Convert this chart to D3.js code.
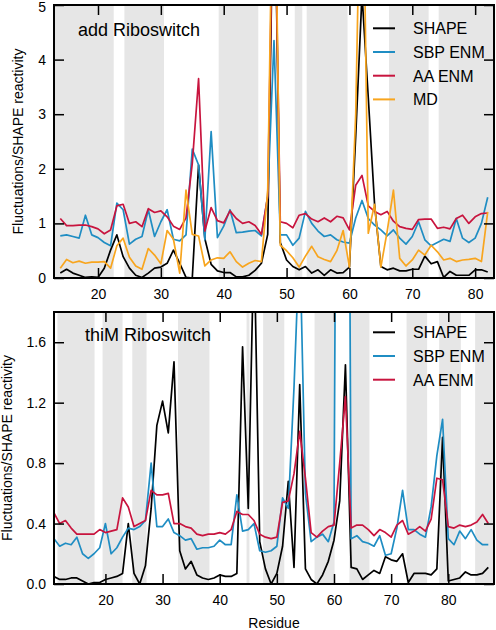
<!DOCTYPE html>
<html><head><meta charset="utf-8">
<script src="https://cdn.jsdelivr.net/npm/d3@7"></script>
<style>body{margin:0;background:#fff;} svg{display:block;font-family:"Liberation Sans",Arial,Helvetica,sans-serif;}</style>
</head><body><svg id="c" width="496" height="630"></svg>
<script>
// ---------- DATA ----------
const seriesNames = ["SHAPE", "SBP ENM", "AA ENM", "MD"];
const seriesColors = ["#000000", "#1f8dc3", "#c8143e", "#f8a51e"];

// add riboswitch (residues 14..82)
const addResidues = d3.range(14, 83);
const addShape = [0.09,0.16,0.09,0.05,0.01,0.02,0.01,0.18,0.51,0.79,0.39,0.18,0.05,0.01,0.09,0.18,0.20,0.27,0.51,0.27,0.01,0.0,2.07,0.72,0.25,0.13,0.10,0.10,0.02,0.02,0.05,0.14,0.27,0.8,8.0,0.65,0.33,0.21,0.15,0.21,0.09,0.15,0.05,0.15,0.09,0.10,0.20,2.6,5.2,3.3,1.35,0.21,0.15,0.18,0.13,0.13,0.16,0.16,0.40,0.26,0.30,0.01,0.12,0.05,0.05,0.05,0.15,0.15,0.11];
const addSbp = [0.77,0.79,0.76,0.73,1.15,0.79,0.74,0.65,0.59,1.37,1.25,0.62,0.71,0.76,1.25,0.76,1.03,1.25,0.71,0.68,0.79,2.36,2.07,0.70,2.68,0.74,0.95,1.25,0.83,0.84,0.86,0.87,0.77,1.5,4.35,0.79,0.79,0.60,0.73,1.22,1.0,0.86,0.76,0.79,0.70,0.66,0.64,1.1,1.42,1.09,0.97,0.88,0.77,0.88,0.73,0.62,0.76,1.03,0.70,0.59,0.65,0.71,0.67,1.09,0.73,0.65,0.73,1.0,1.48];
const addAa = [1.09,0.96,0.96,0.97,0.97,0.94,0.90,0.81,0.88,1.32,1.35,1.0,1.03,0.94,1.27,1.2,1.23,1.12,0.95,0.89,1.1,2.1,3.65,0.86,1.29,1.05,1.01,1.23,1.09,1.0,1.03,0.96,0.8,1.5,8.0,1.03,1.0,0.92,1.15,1.18,1.08,1.03,1.1,1.03,1.13,1.1,0.88,1.7,1.88,1.32,1.22,1.16,1.22,1.04,0.94,0.91,0.89,1.07,1.08,1.08,0.91,0.93,0.9,1.09,1.15,1.0,1.12,1.18,1.19];
const addMd = [0.18,0.34,0.28,0.31,0.27,0.29,0.29,0.30,0.18,0.59,0.73,0.38,0.22,0.16,0.54,0.42,0.26,0.87,0.71,0.09,1.61,0.8,0.77,0.22,0.33,0.37,0.36,0.48,0.30,0.20,0.27,0.32,0.30,1.6,9.0,0.6,0.5,0.37,0.2,0.4,0.58,0.39,0.34,0.3,0.5,0.87,0.2,3.0,9.0,0.82,1.35,0.2,0.85,1.61,0.36,0.22,0.33,0.51,0.42,0.6,0.48,0.33,0.36,0.3,0.33,0.34,0.36,0.3,1.21];
const addBands = [[13,22.5],[24.2,30.5],[39.2,45.5],[51.3,52.5],[53.2,59.7],[66.3,72.6],[74.2,83]];
const addYTicks = [0,1,2,3,4,5];
const addXTicks = [20,30,40,50,60,70,80];

// thiM riboswitch (residues 11..87)
const thiResidues = d3.range(11, 88);
const thiShape = [0.05,0.03,0.03,0.04,0.04,0.02,0.0,0.01,0.01,0.03,0.04,0.05,0.07,0.4,0.07,0.0,0.12,0.5,1.05,1.21,1.0,1.47,0.22,0.1,0.15,0.06,0.04,0.03,0.04,0.06,0.05,0.05,0.07,1.57,0.5,2.3,0.28,0.1,0.0,0.07,0.25,0.68,0.11,1.32,0.1,0.03,0.0,0.06,0.15,0.29,0.55,1.45,0.11,0.1,0.03,0.06,0.09,0.07,0.18,0.16,0.15,0.2,0.01,0.07,0.07,0.07,0.06,0.1,0.97,0.02,0.03,0.04,0.08,0.06,0.06,0.07,0.11];
const thiSbp = [0.30,0.25,0.27,0.26,0.31,0.20,0.17,0.20,0.24,0.40,0.20,0.24,0.31,0.37,0.36,0.38,0.42,0.80,0.38,0.38,0.43,0.34,0.32,0.29,0.30,0.23,0.24,0.24,0.25,0.29,0.26,0.26,0.59,0.35,0.36,0.40,0.22,0.21,0.22,0.25,0.57,0.50,1.3,2.3,0.6,0.28,0.31,0.33,0.28,0.41,8.0,8.0,0.3,0.32,0.28,0.27,0.25,0.32,0.19,0.2,0.37,0.62,0.36,0.36,0.33,0.31,0.51,0.85,1.09,0.30,0.26,0.35,0.30,0.36,0.29,0.26,0.26];
const thiAa = [0.47,0.40,0.42,0.37,0.33,0.33,0.33,0.33,0.36,0.34,0.35,0.36,0.57,0.51,0.38,0.40,0.42,0.62,0.59,0.59,0.60,0.40,0.40,0.38,0.37,0.33,0.32,0.33,0.33,0.34,0.33,0.36,0.48,0.46,0.46,0.42,0.33,0.31,0.30,0.31,0.54,0.55,0.73,1.01,0.7,0.34,0.31,0.35,0.38,0.39,0.8,1.24,0.37,0.39,0.39,0.36,0.32,0.36,0.34,0.31,0.39,0.42,0.33,0.35,0.38,0.35,0.43,0.7,0.69,0.38,0.37,0.39,0.38,0.39,0.41,0.46,0.40];
const thiBands = [[11.6,18.1],[19.5,23.0],[24.7,27.2],[32.7,38.2],[44.7,45.2],[47.6,51.3],[56.6,60.1],[62.7,66.2],[72.7,76.3],[78.4,82.2],[84.7,88]];
const thiYTicks = [0,0.4,0.8,1.2,1.6];
const thiXTicks = [20,30,40,50,60,70,80];

// ---------- DRAW ----------
const svg = d3.select("#c");
const X0 = 54, X1 = 494;

function drawPanel(cfg) {
  const x = d3.scaleLinear().domain(cfg.xDomain).range([X0, X1]);
  const y = d3.scaleLinear().domain(cfg.yDomain).range([cfg.bottom, cfg.top]);
  const g = svg.append("g");
  const clipId = "clip" + cfg.id;
  svg.append("clipPath").attr("id", clipId).append("rect")
    .attr("x", X0).attr("y", cfg.top).attr("width", X1 - X0).attr("height", cfg.bottom - cfg.top);
  const plot = g.append("g").attr("clip-path", `url(#${clipId})`);
  plot.selectAll("rect.band").data(cfg.bands).join("rect")
    .attr("x", d => x(d[0])).attr("width", d => x(d[1]) - x(d[0]))
    .attr("y", cfg.top).attr("height", cfg.bottom - cfg.top)
    .attr("fill", "#e6e6e6");
  const line = d3.line().x((d, i) => x(cfg.residues[i])).y(d => y(d));
  cfg.series.forEach((s, k) => {
    plot.append("path").datum(s).attr("d", line)
      .attr("fill", "none").attr("stroke", seriesColors[k])
      .attr("stroke-width", 1.7).attr("stroke-linejoin", "round");
  });
  const fmt = cfg.yFmt;
  const ax = (a) => a.attr("font-size", 14).attr("font-family", null)
      .call(s => s.selectAll(".tick line").attr("stroke-width", 1.5))
      .call(s => s.select(".domain").remove());
  const yl = g.append("g").attr("transform", `translate(${X0},0)`)
    .call(d3.axisLeft(y).tickValues(cfg.yTicks).tickFormat(fmt).tickSizeInner(-10).tickSizeOuter(0).tickPadding(8))
    .call(ax);
  yl.selectAll(".tick text").filter(d => y(d) - cfg.top < 6).attr("dy", "0.45em");
  g.append("g").attr("transform", `translate(${X1},0)`)
    .call(d3.axisRight(y).tickValues(cfg.yTicks).tickFormat("").tickSizeInner(-10).tickSizeOuter(0))
    .call(ax);
  g.append("g").attr("transform", `translate(0,${cfg.bottom})`)
    .call(d3.axisBottom(x).tickValues(cfg.xTicks).tickFormat(d3.format("d")).tickSizeInner(-10).tickSizeOuter(0).tickPadding(11))
    .call(ax);
  g.append("g").attr("transform", `translate(0,${cfg.top})`)
    .call(d3.axisTop(x).tickValues(cfg.xTicks).tickFormat("").tickSizeInner(-10).tickSizeOuter(0))
    .call(ax);
  g.selectAll(".tick text").attr("fill", "#000");
  g.append("rect").attr("x", X0).attr("y", cfg.top).attr("width", X1 - X0).attr("height", cfg.bottom - cfg.top)
    .attr("fill", "none").attr("stroke", "#000").attr("stroke-width", 2);
  // title
  g.append("text").attr("x", cfg.titleX).attr("y", cfg.titleY).attr("font-size", 18).text(cfg.title);
  // legend
  const lg = g.append("g");
  cfg.series.forEach((s, k) => {
    const cy = cfg.legendY + k * 23.7;
    lg.append("line").attr("x1", 373).attr("x2", 395).attr("y1", cy).attr("y2", cy)
      .attr("stroke", seriesColors[k]).attr("stroke-width", 2);
    lg.append("text").attr("x", 413).attr("y", cy + 5.8).attr("font-size", 16).text(seriesNames[k]);
  });
  // y title
  g.append("text").attr("transform", `translate(${cfg.yTitleX},${(cfg.top + cfg.bottom) / 2}) rotate(-90)`)
    .attr("text-anchor", "middle").attr("font-size", 14).text("Fluctuations/SHAPE reactivity");
}

drawPanel({
  id: "a", residues: addResidues, series: [addShape, addSbp, addAa, addMd],
  xDomain: [13, 83], yDomain: [0, 5], top: 5, bottom: 278,
  bands: addBands, yTicks: addYTicks, xTicks: addXTicks, yFmt: d3.format("d"),
  title: "add Riboswitch", titleX: 78, titleY: 35.5, legendY: 28.3, yTitleX: 23
});
drawPanel({
  id: "b", residues: thiResidues, series: [thiShape, thiSbp, thiAa],
  xDomain: [11, 88], yDomain: [0, 1.8], top: 312, bottom: 584,
  bands: thiBands, yTicks: thiYTicks, xTicks: thiXTicks, yFmt: d3.format(".1f"),
  title: "thiM Riboswitch", titleX: 85, titleY: 341, legendY: 332.3, yTitleX: 12
});
svg.append("text").attr("x", 274).attr("y", 628).attr("text-anchor", "middle")
  .attr("font-size", 14).text("Residue");
</script></body></html>
